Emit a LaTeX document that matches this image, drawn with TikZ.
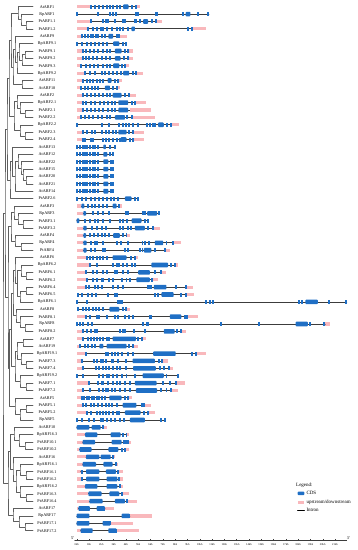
\documentclass[tikz,border=0pt]{standalone}
\usepackage{fontspec}
\setmainfont{Liberation Serif}
\usetikzlibrary{calc}

\definecolor{cdsblue}{HTML}{1F6FC5}
\definecolor{utrpink}{HTML}{F9B8BC}
\definecolor{treegray}{HTML}{5E5E5E}
\definecolor{introngray}{HTML}{3C3C3C}

\tikzset{
  tree/.style={draw=treegray, line width=0.55pt},
  utr/.style={fill=utrpink},
  cds/.style={fill=cdsblue},
  intron/.style={draw=introngray, line width=0.75pt},
  glabel/.style={inner sep=0pt, font=\fontsize{4.2}{4.2}\selectfont},
  ticklab/.style={inner sep=0pt, font=\fontsize{2.8}{2.8}\selectfont},
  legtext/.style={inner sep=0pt, anchor=west, font=\fontsize{5}{5}\selectfont},
}

% one row: #1 row, #2 gene, #3/#4 UTR ends, #5/#6 first/last exon, #7 small exons, #8 large exons (kb)
\newcommand{\gene}[8]{%
  \pgfmathsetmacro{\gy}{6.7+(#1-1)*7.38}
  \coordinate (leaf#1) at (33,\gy);
  \node[glabel] (lab#1) at (47,\gy) {#2};
  \begin{scope}[xshift=76.7pt, x=12.3pt]
    \fill[utr] (#3,\gy-1.6) rectangle (#5,\gy+1.6);
    \fill[utr] (#6,\gy-1.6) rectangle (#4,\gy+1.6);
    \draw[intron] (#5,\gy) -- (#6,\gy);
    \foreach \c in {#7} \fill[cds] (\c-0.08,\gy-2.0) rectangle (\c+0.08,\gy+2.0);
    \foreach \s/\e in {#8} \fill[cds, rounded corners=0.8pt] (\s,\gy-2.3) rectangle (\e,\gy+2.3);
  \end{scope}
}

% inner tree node: #1 name, #2 x, #3/#4 children
\newcommand{\inode}[4]{%
  \path ($(#3)!.5!(#4)$) coordinate (mid#1);
  \coordinate (#1) at (#2,0 |- mid#1);
  \draw[tree] (#3) -| (#1) |- (#4);
}

\begin{document}
\begin{tikzpicture}[x=1pt, y=-1pt, line cap=round, line join=round]
  \useasboundingbox (0,0) rectangle (357,550);

  % gene structures
  \gene{1}{AtARF1}{0}{5.14}{1.14}{4.86}{1.14,1.49,1.84,2.16,2.43,2.70,2.97,3.24,3.51,4.49,4.81}{3.78/4.22}
  \gene{2}{RpARF1}{0}{10.75}{0}{10.75}{0.05,1.7,2.7,2.97,3.19,4.81,5.0,6.43,6.57,8.62,9.86,10.7}{8.86/9.24}
  \gene{3}{PtARF1.1}{0}{6.9}{1.2}{6.43}{1.2,2.16,2.38,2.57,3.1,3.78,3.92,4.73,4.86,5.14,6.1,6.43}{5.4/5.8}
  \gene{4}{PtARF1.2}{0}{10.5}{0.95}{9.4}{0.95,1.3,1.62,1.95,2.16,2.43,2.84,3.24,3.51,3.78,4.2,9.05,9.4}{4.45/4.73}
  \gene{5}{AtARF9}{0}{4.05}{0.4}{3.46}{0.4,0.68,0.95,1.14,1.35,1.57,1.76,2.03,2.3,3.24,3.46}{2.57/2.97}
  \gene{6}{RpARF9.1}{0}{4.05}{0}{4.0}{0.05,0.4,0.81,1.14,1.49,1.84,2.16,2.49,3.73,4.0}{2.97/3.46}
  \gene{7}{PtARF9.1}{0}{4.54}{0.49}{4.19}{0.49,0.76,1.08,1.41,1.76,2.11,2.43,2.7,3.92,4.19}{3.11/3.65}
  \gene{8}{PtARF9.2}{0}{4.6}{0.49}{4.19}{0.49,0.76,1.03,1.35,1.68,2.03,2.38,2.7,3.84,4.19}{3.11/3.57}
  \gene{9}{PtARF9.3}{0}{4.27}{0.35}{3.92}{0.35,0.76,1.08,1.41,1.76,2.11,2.43,2.7,3.65,3.92}{2.97/3.46}
  \gene{10}{RpARF9.2}{0}{5.4}{0.68}{4.86}{0.68,1.08,1.49,2.03,2.3,2.65,2.97,3.24,3.57,4.54,4.86}{3.78/4.27}
  \gene{11}{AtARF11}{0}{3.65}{0.49}{3.38}{0.49,0.81,1.08,1.35,1.62,1.89,2.16,3.11,3.38}{2.51/2.84}
  \gene{12}{AtARF18}{0}{3.5}{0.32}{3.24}{0.32,0.68,0.95,1.22,1.49,1.76,2.97,3.24}{2.3/2.7}
  \gene{13}{AtARF2}{0}{4.8}{0.49}{4.27}{0.49,0.81,1.14,1.49,1.84,2.16,2.43,2.7,3.92,4.27}{2.92/3.65}
  \gene{14}{RpARF2.1}{0}{5.6}{0.49}{4.73}{0.49,0.76,1.14,1.49,1.89,2.22,2.57,2.84,3.11,4.46,4.73}{3.38/4.19}
  \gene{15}{PtARF2.1}{0}{6.0}{0.54}{4.3}{0.54,0.81,1.14,1.49,1.84,2.16,2.57,2.84,3.11}{3.38/4.19}
  \gene{16}{PtARF2.2}{0}{6.4}{0.32}{4.46}{0.32,0.68,1.03,1.35,1.76,2.03,2.43,2.7,4.11,4.46}{3.11/3.92}
  \gene{17}{RpARF2.2}{0}{8.3}{0}{7.7}{0.05,2.03,2.65,3.46,3.73,4.0,4.27,4.54,5.0,5.68,5.95,6.22,6.35,7.35,7.7}{6.62/7.08}
  \gene{18}{PtARF2.3}{0}{5.5}{0.49}{4.59}{0.49,0.81,1.22,1.49,2.03,2.38,2.65,2.92,3.19,4.27,4.59}{3.38/4.05}
  \gene{19}{PtARF2.4}{0}{5.5}{0.49}{4.59}{0.49,0.68,1.14,1.3,2.11,2.38,2.65,2.92,3.24,3.51,4.32,4.59}{3.57/4.05}
  \gene{20}{AtARF13}{0}{3.11}{0}{3.11}{0.05,0.27,0.49,0.68,0.86,1.08,1.3,1.49,1.76,2.7,3.11}{2.16/2.38}
  \gene{21}{AtARF12}{0}{3.0}{0}{2.92}{0.05,0.27,0.49,0.68,0.86,1.08,1.3,1.49,1.76,2.7,2.92}{2.16/2.49}
  \gene{22}{AtARF22}{0}{3.05}{0}{2.97}{0.05,0.27,0.49,0.68,0.86,1.08,1.3,1.49,1.76,2.76,2.97}{2.16/2.57}
  \gene{23}{AtARF15}{0}{3.05}{0}{2.97}{0.05,0.27,0.49,0.68,0.86,1.08,1.3,1.49,1.76,2.76,2.97}{2.16/2.57}
  \gene{24}{AtARF20}{0}{3.05}{0}{2.97}{0.05,0.27,0.49,0.68,0.86,1.08,1.3,1.49,1.76,2.76,2.97}{2.16/2.57}
  \gene{25}{AtARF21}{0}{3.05}{0}{2.97}{0.05,0.27,0.49,0.68,0.86,1.08,1.3,1.49,1.76,2.76,2.97}{2.16/2.57}
  \gene{26}{AtARF14}{0}{3.05}{0}{2.97}{0.05,0.27,0.49,0.68,0.86,1.08,1.3,1.49,1.76,2.76,2.97}{2.16/2.57}
  \gene{27}{PtARF2.6}{0}{5.0}{0}{5.0}{0.05,0.4,0.76,1.14,1.49,1.84,2.16,2.49,2.76,3.03,3.38,4.73,5.0}{3.92/4.46}
  \gene{28}{AtARF3}{0}{3.65}{0.38}{3.46}{0.95,1.22,1.49,1.84,2.16,2.43,3.46}{0.38/0.62,2.92/3.24}
  \gene{29}{RpARF3}{0}{6.8}{0.54}{6.7}{1.3,1.76,2.16,2.65,4.0,4.19,5.41,5.54,6.7}{0.54/0.76,5.73/6.54}
  \gene{30}{PtARF3.1}{0}{5.81}{0}{5.81}{0.68,1.08,1.49,1.76,2.16,2.7,3.51,3.78,4.11,5.54,5.81}{0/0.22,4.46/5.27}
  \gene{31}{PtARF3.2}{0}{6.8}{0.54}{6.22}{1.22,1.62,2.03,2.38,3.51,3.78,4.19,4.38,5.81,6.22}{0.54/0.81,4.73/5.54}
  \gene{32}{AtARF4}{0}{4.3}{0.54}{4.05}{1.08,1.41,1.76,2.03,2.3,2.65,3.78,4.05}{0.54/0.76,2.97/3.51}
  \gene{33}{RpARF4}{0}{8.5}{0.54}{7.84}{1.14,1.49,1.68,2.16,3.24,3.57,4.19,5.35,5.54,5.89,7.3,7.84}{0.54/0.81,6.35/7.03}
  \gene{34}{PtARF4}{0}{7.6}{0.54}{7.16}{1.14,1.49,2.11,2.3,3.92,4.19,5.14,5.35,6.35,7.16}{0.54/0.81,5.46/6.08}
  \gene{35}{AtARF6}{0}{5.0}{0.81}{4.73}{0.81,1.08,1.35,1.62,1.89,2.16,2.43,4.38,4.73}{2.92/4.05}
  \gene{36}{RpARF6.2}{0}{8.2}{1.08}{7.97}{1.08,1.68,2.97,3.24,3.46,3.73,4.11,4.46,4.73,7.7,7.97}{6.08/7.43}
  \gene{37}{PtARF6.1}{0}{7.3}{0.76}{6.89}{0.76,1.35,1.68,2.16,2.49,3.11,3.24,3.73,4.19,6.35,6.89}{5.0/5.95}
  \gene{38}{PtARF6.2}{0}{6.6}{0.81}{6.16}{0.81,1.3,1.68,2.03,2.16,2.65,2.97,3.65,4.05,4.32,6.16}{4.86/5.95}
  \gene{39}{PtARF6.4}{0}{9.46}{0.76}{8.92}{0.76,1.03,1.49,1.76,2.03,2.97,3.38,3.78,5.81,5.95,6.08,8.05,8.92}{6.27/7.3}
  \gene{40}{PtARF6.5}{0}{9.5}{0.14}{8.92}{0.14,0.41,0.95,1.22,1.57,2.57,3.11,3.24,6.35,6.62,8.51,8.92}{6.89/7.89}
  \gene{41}{RpARF6.1}{0}{21.95}{0}{21.95}{0.05,0.81,3.38,3.51,3.65,10.5,10.8,11.05,18.1,18.3,20.5,21.9}{18.6/19.6}
  \gene{42}{AtARF8}{0}{4.3}{0.14}{4.0}{0.14,0.49,0.76,1.03,1.3,1.57,1.84,2.16,3.73,4.0}{2.65/3.46}
  \gene{43}{PtARF8.1}{0}{9.9}{0.76}{9.0}{0.76,1.08,1.62,1.84,2.49,3.11,3.38,3.92,4.27,4.54,5.95,6.08,8.78,9.0}{7.57/8.51}
  \gene{44}{RpARF8}{0}{20.6}{0}{20.2}{0.05,0.27,0.54,0.95,1.22,5.41,5.68,5.81,11.76,14.8,19.0,20.1}{17.8/18.8}
  \gene{45}{PtARF8.2}{0}{8.9}{0.54}{8.51}{0.54,0.86,1.14,1.49,1.62,3.51,3.78,3.92,4.65,5.54,8.16,8.51}{7.08/7.97}
  \gene{46}{AtARF7}{0}{5.6}{0.54}{5.27}{0.54,0.95,1.14,1.41,1.62,1.89,2.16,2.43,2.65,5.0,5.27}{2.92/4.81}
  \gene{47}{AtARF19}{0}{5.0}{0.27}{4.54}{0.27,0.68,0.95,1.22,1.49,4.27,4.54}{1.84/2.16,2.43/4.05}
  \gene{48}{RpARF19.1}{0}{10.5}{0.76}{9.68}{0.76,2.38,2.57,2.84,3.11,3.38,3.65,4.19,4.59,9.4,9.68}{6.22/8.05}
  \gene{49}{PtARF7.3}{0}{7.4}{0.41}{6.97}{0.41,1.41,1.62,1.95,2.16,2.38,2.84,2.97,3.38,4.0,6.7,6.97}{4.54/6.35}
  \gene{50}{PtARF7.4}{0}{7.8}{0.49}{7.51}{0.49,1.57,1.84,2.16,2.38,2.65,2.92,3.3,3.51,4.0,6.76,7.08,7.51}{4.59/6.43}
  \gene{51}{RpARF19.2}{0}{8.24}{0}{8.24}{0.05,0.49,1.84,2.11,2.43,2.65,2.97,3.24,3.65,4.05,4.73,7.3,8.24}{5.35/7.08}
  \gene{52}{PtARF7.1}{0}{8.8}{1.03}{8.05}{1.03,1.76,2.03,2.16,2.57,2.97,3.3,3.51,3.92,4.32,7.03,7.57,8.05}{4.73/6.49}
  \gene{53}{PtARF7.2}{0}{8.2}{0.54}{7.7}{0.54,1.08,1.84,2.11,2.38,2.57,2.84,3.11,3.51,3.92,4.32,6.89,7.3,7.7}{4.81/6.54}
  \gene{54}{AtARF5}{0}{4.46}{0.41}{4.19}{0.41,0.59,0.81,1.03,1.22,1.41,1.62,1.84,2.03,2.3,3.92,4.19}{2.65/3.65}
  \gene{55}{PtARF5.1}{0}{6.0}{0.49}{5.46}{0.49,0.76,1.14,1.41,1.76,2.03,2.38,2.65,2.84,3.24,5.27,5.46}{3.73/4.86}
  \gene{56}{PtARF5.2}{0}{6.4}{0.81}{5.81}{0.81,1.14,1.68,1.89,2.16,2.38,2.65,2.92,3.24,3.46,5.46,5.81}{3.92/5.19}
  \gene{57}{RpARF5}{0}{7.16}{0}{7.16}{0.05,0.41,1.03,1.41,1.95,2.16,2.49,2.76,3.11,3.51,3.84,6.89,7.16}{4.32/5.54}
  \gene{58}{AtARF10}{0}{2.43}{0}{2.16}{2.16}{0/1.03,1.22/1.95}
  \gene{59}{RpARF16.3}{0}{4.27}{0.68}{4.05}{3.78,4.05}{0.68/1.68,2.76/3.57}
  \gene{60}{PtARF10.1}{0}{4.4}{0.49}{4.19}{3.84,4.0,4.19}{0.49/1.49,2.84/3.65}
  \gene{61}{PtARF10.2}{0}{4.27}{0.22}{3.92}{3.65,3.92}{0.22/1.22,2.57/3.38}
  \gene{62}{AtARF16}{0}{3.1}{0.76}{2.92}{2.92}{0.76/1.84,1.95/2.76}
  \gene{63}{RpARF16.1}{0}{3.38}{0.49}{3.19}{3.19}{0.49/1.57,2.16/2.92}
  \gene{64}{PtARF16.1}{0}{3.73}{0.32}{3.38}{0.41,3.38}{0.76/1.84,2.38/3.19}
  \gene{65}{PtARF16.2}{0}{3.73}{0.38}{3.46}{0.41,3.46}{0.76/1.84,2.43/3.3}
  \gene{66}{RpARF16.2}{0}{3.78}{0.68}{3.51}{3.51}{0.68/1.68,2.43/3.3}
  \gene{67}{PtARF16.3}{0}{4.27}{0.95}{3.65}{3.65}{0.95/2.03,2.65/3.46}
  \gene{68}{PtARF16.4}{0}{4.9}{1.03}{4.11}{4.11}{1.03/2.11,3.11/3.92}
  \gene{69}{AtARF17}{0}{3.03}{0.14}{2.3}{2.25}{0.14/1.08,1.62/2.3}
  \gene{70}{RpARF17}{0}{6.16}{0}{4.32}{4.25}{0/1.03,3.65/4.32}
  \gene{71}{PtARF17.1}{0}{4.6}{0}{2.76}{2.7}{0/1.03,2.11/2.76}
  \gene{72}{PtARF17.2}{0}{5.08}{0.32}{3.24}{3.2}{0.32/1.3,2.57/3.24}

  % tree
  \inode{A11}{26}{leaf3}{leaf4}
  \inode{A12}{21}{leaf2}{A11}
  \inode{A13}{18}{leaf1}{A12}
  \inode{B14}{25}{leaf7}{leaf8}
  \inode{B13}{22}{B14}{leaf9}
  \inode{B12}{19}{leaf6}{B13}
  \inode{B11}{17}{B12}{leaf10}
  \inode{B1}{15}{leaf5}{B11}
  \inode{C1}{22}{leaf11}{leaf12}
  \inode{P2}{13}{B1}{C1}
  \inode{P}{11}{A13}{P2}
  \inode{Q1b}{25}{leaf15}{leaf16}
  \inode{Q1a}{20}{leaf14}{Q1b}
  \inode{Q1}{17}{leaf13}{Q1a}
  \inode{Q2a}{25}{leaf18}{leaf19}
  \inode{Q2}{20}{leaf17}{Q2a}
  \inode{Q}{14}{Q1}{Q2}
  \inode{A1a}{9}{P}{Q}
  \inode{E5}{26}{leaf24}{leaf25}
  \inode{E4}{23}{leaf23}{E5}
  \inode{E3}{21}{leaf22}{E4}
  \inode{E2}{18}{leaf21}{E3}
  \inode{E1}{15}{E2}{leaf26}
  \inode{E}{12.5}{leaf20}{E1}
  \inode{A1b}{10}{E}{leaf27}
  \inode{A1}{7}{A1a}{A1b}
  \inode{F2}{23}{leaf30}{leaf31}
  \inode{F1}{18}{leaf29}{F2}
  \inode{F}{14}{leaf28}{F1}
  \inode{G1}{21}{leaf33}{leaf34}
  \inode{G}{15}{leaf32}{G1}
  \inode{FG}{11}{F}{G}
  \inode{Ha1}{26}{leaf37}{leaf38}
  \inode{Ha}{21}{leaf36}{Ha1}
  \inode{Hb1}{26}{leaf39}{leaf40}
  \inode{Hb}{20}{Hb1}{leaf41}
  \inode{H1}{17.5}{Ha}{Hb}
  \inode{H}{15}{leaf35}{H1}
  \inode{I2}{25}{leaf44}{leaf45}
  \inode{I1}{20}{leaf43}{I2}
  \inode{I}{16}{leaf42}{I1}
  \inode{HI}{13}{H}{I}
  \inode{Ja1}{23}{leaf46}{leaf47}
  \inode{Ja3}{26}{leaf49}{leaf50}
  \inode{Ja2}{21}{leaf48}{Ja3}
  \inode{Ja}{17}{Ja1}{Ja2}
  \inode{Jb1}{26}{leaf52}{leaf53}
  \inode{Jb}{20}{leaf51}{Jb1}
  \inode{J}{15}{Ja}{Jb}
  \inode{HIJ}{11.5}{HI}{J}
  \inode{K2}{26}{leaf55}{leaf56}
  \inode{K1}{20}{K2}{leaf57}
  \inode{K}{15}{leaf54}{K1}
  \inode{A2b}{9.5}{HIJ}{K}
  \inode{A2}{8}{FG}{A2b}
  \inode{A}{5}{A1}{A2}
  \inode{L2}{25}{leaf60}{leaf61}
  \inode{L1}{19}{leaf59}{L2}
  \inode{L}{14}{leaf58}{L1}
  \inode{Ma1}{26}{leaf64}{leaf65}
  \inode{Ma}{20}{leaf63}{Ma1}
  \inode{Mb1}{26}{leaf67}{leaf68}
  \inode{Mb}{20}{leaf66}{Mb1}
  \inode{M1}{16}{Ma}{Mb}
  \inode{M}{13}{leaf62}{M1}
  \inode{LM}{10.5}{L}{M}
  \inode{N2}{25}{leaf71}{leaf72}
  \inode{N1}{19}{leaf70}{N2}
  \inode{N}{13}{leaf69}{N1}
  \inode{Bc}{8}{LM}{N}
  \inode{root}{3}{A}{Bc}

  % scale
  \coordinate (ax0) at (74.7,540.5);
  \coordinate (ax1) at (346.7,540.5);
  \draw[intron, line width=0.5pt] (ax0) -- (ax1);
  \foreach \k in {0,...,21} {
    \draw[introngray, line width=0.4pt] (76.7+12.3*\k,540.5) -- ++(0,-1.3);
    \node[ticklab] (tk\k) at (76.7+12.3*\k,544.3) {\k kb};
  }
  \node[glabel, anchor=east] (five) at (ax0) [yshift=2.8pt] {5'};
  \node[glabel, anchor=west] (three) at (ax1) [yshift=2.8pt] {3'};

  % legend
  \node[legtext] (leg) at (296,485) {Legend:};
  \fill[cds, rounded corners=0.8pt] (297.7,491.5) rectangle (304.3,495);
  \node[legtext] (legcds) at (306.3,493.3) {CDS};
  \fill[utr] (297.7,500.5) rectangle (304.3,503.5);
  \node[legtext] (legutr) at (306.3,502) {upstream/downstream};
  \draw[black, line width=1.2pt] (297.7,510.2) -- (304.3,510.2);
  \node[legtext] (legint) at (306.3,510.2) {Intron};
\end{tikzpicture}
\end{document}
